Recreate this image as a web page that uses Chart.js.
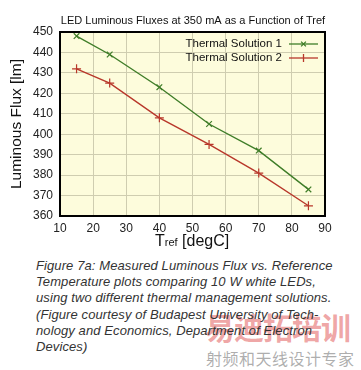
<!DOCTYPE html>
<html>
<head>
<meta charset="utf-8">
<script src="https://cdn.jsdelivr.net/npm/chart.js@4/dist/chart.umd.min.js"></script>
<style>
html,body{margin:0;padding:0;background:#fff;width:361px;height:370px;overflow:hidden;}
#wrap{position:relative;width:361px;height:370px;}
#c{position:absolute;left:0;top:0;}
#cap{position:absolute;left:36px;top:258px;font-family:"Liberation Sans",Arial,sans-serif;font-style:italic;font-size:13px;line-height:16.2px;color:#333;white-space:nowrap;letter-spacing:0.1px;}
#wm1{position:absolute;left:205px;top:304px;font-family:"Noto Sans CJK SC";font-weight:bold;font-size:30px;color:rgba(225,90,90,0.55);letter-spacing:-1px;white-space:nowrap;}
#wm2{position:absolute;left:206px;top:346px;font-family:"Noto Sans CJK SC";font-size:16px;color:rgba(120,120,120,0.6);letter-spacing:0.5px;white-space:nowrap;}
</style>
</head>
<body>
<div id="wrap">
<canvas id="c" width="361" height="255"></canvas>
<div id="wm1">易迪拓培训</div>
<div id="wm2">射频和天线设计专家</div>
<div id="cap">Figure 7a: Measured Luminous Flux vs. Reference<br>Temperature plots comparing 10 W white LEDs,<br>using two different thermal management solutions.<br>(Figure courtesy of Budapest University of Tech-<br>nology and Economics, Department of Electron<br>Devices)</div>
</div>
<script>
const temps = [15, 25, 40, 55, 70, 85];
const solution1 = [448, 439, 423, 405, 392, 373];
const solution2 = [432, 425, 408, 395, 381, 365];
const seriesNames = ["Thermal Solution 1", "Thermal Solution 2"];
const xTicks = [10, 20, 30, 40, 50, 60, 70, 80, 90];
const yTicks = [360, 370, 380, 390, 400, 410, 420, 430, 440, 450];
const chartTitle = "LED Luminous Fluxes at 350 mA as a Function of Tref";
const yTitle = "Luminous Flux [lm]";

const FONT = '"Liberation Sans", Arial, sans-serif';
const GREEN = '#3f7d28';
const RED = '#b8372a';

const bgPlugin = {
  id: 'bg',
  beforeDraw(chart) {
    const {ctx, chartArea: a} = chart;
    ctx.save();
    ctx.fillStyle = '#fdfcdc';
    ctx.fillRect(a.left, a.top, a.right - a.left, a.bottom - a.top);
    ctx.restore();
  },
  afterDraw(chart) {
    const {ctx, chartArea: a} = chart;
    ctx.save();
    ctx.strokeStyle = '#000';
    ctx.lineWidth = 2;
    ctx.strokeRect(a.left, a.top, a.right - a.left, a.bottom - a.top);
    ctx.fillStyle = '#111';
    ctx.font = '11px ' + FONT;
    ctx.textAlign = 'center';
    ctx.textBaseline = 'middle';
    ctx.fillText(chartTitle, 193, 21);
    ctx.save();
    ctx.translate(17, 124);
    ctx.rotate(-Math.PI / 2);
    ctx.font = '15.5px ' + FONT;
    ctx.fillText(yTitle, 0, 0);
    ctx.restore();
    ctx.textAlign = 'left';
    ctx.textBaseline = 'alphabetic';
    let x = 155;
    const base = 246;
    ctx.font = '16px ' + FONT;
    ctx.fillText('T', x, base); x += ctx.measureText('T').width;
    ctx.font = '11px ' + FONT;
    ctx.fillText('ref', x, base); x += ctx.measureText('ref').width;
    ctx.font = '16px ' + FONT;
    ctx.fillText(' [degC]', x, base);
    ctx.font = '11.5px ' + FONT;
    ctx.textAlign = 'right';
    ctx.textBaseline = 'middle';
    chart.data.datasets.forEach((ds, i) => {
      const y = 44 + i * 14;
      ctx.fillStyle = '#111';
      ctx.fillText(ds.label, 282, y);
      ctx.strokeStyle = ds.borderColor;
      ctx.lineWidth = 1.3;
      ctx.beginPath(); ctx.moveTo(289, y); ctx.lineTo(318, y); ctx.stroke();
      const cx = 303.5, r = 3;
      ctx.beginPath();
      if (ds.pointStyle === 'crossRot') {
        ctx.moveTo(cx - r * 0.8, y - r * 0.8); ctx.lineTo(cx + r * 0.8, y + r * 0.8);
        ctx.moveTo(cx + r * 0.8, y - r * 0.8); ctx.lineTo(cx - r * 0.8, y + r * 0.8);
      } else {
        ctx.moveTo(cx, y - r - 1); ctx.lineTo(cx, y + r + 1);
      }
      ctx.stroke();
    });
    ctx.restore();
  }
};

new Chart(document.getElementById('c'), {
  type: 'line',
  data: {
    datasets: [
      {
        label: seriesNames[0],
        data: temps.map((t, i) => ({x: t, y: solution1[i]})),
        borderColor: GREEN,
        backgroundColor: GREEN,
        borderWidth: 1.4,
        pointStyle: 'crossRot',
        pointRadius: 4,
        pointBorderWidth: 1.2,
        tension: 0
      },
      {
        label: seriesNames[1],
        data: temps.map((t, i) => ({x: t, y: solution2[i]})),
        borderColor: RED,
        backgroundColor: RED,
        borderWidth: 1.4,
        pointStyle: 'cross',
        pointRadius: 4.5,
        pointBorderWidth: 1.2,
        tension: 0
      }
    ]
  },
  options: {
    responsive: false,
    animation: false,
    devicePixelRatio: 1,
    layout: {padding: {left: 0, right: 36, top: 32, bottom: 0}},
    plugins: {legend: {display: false}, title: {display: false}, tooltip: {enabled: false}},
    scales: {
      x: {
        type: 'linear',
        min: 10, max: 90,
        afterBuildTicks: s => { s.ticks = xTicks.map(v => ({value: v})); },
        afterFit: s => { s.height = 39; },
        grid: {color: '#cfcdb0', lineWidth: 1, drawTicks: false},
        border: {display: false},
        ticks: {color: '#222', font: {family: FONT, size: 12}, padding: 5, maxRotation: 0}
      },
      y: {
        type: 'linear',
        min: 360, max: 450,
        afterBuildTicks: s => { s.ticks = yTicks.map(v => ({value: v})); },
        afterFit: s => { s.width = 60; },
        grid: {color: '#cfcdb0', lineWidth: 1, drawTicks: false},
        border: {display: false},
        ticks: {color: '#222', font: {family: FONT, size: 12}, padding: 7}
      }
    }
  },
  plugins: [bgPlugin]
});
</script>
</body>
</html>
